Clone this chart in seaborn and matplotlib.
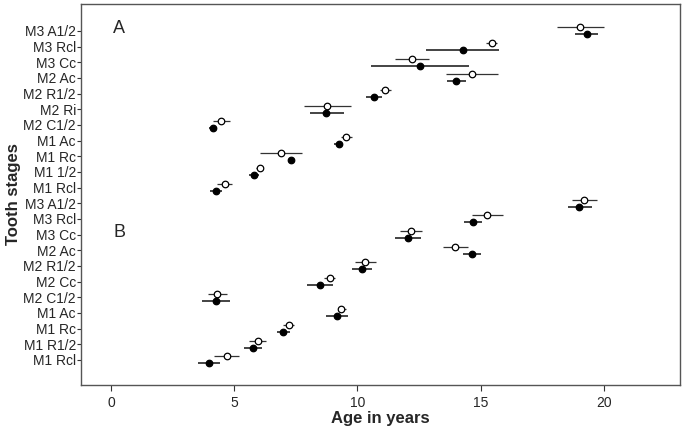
import matplotlib
matplotlib.use("Agg")
import matplotlib.pyplot as plt
import seaborn as sns
import pandas as pd
import numpy as np

sns.set_style("white")
plt.rcParams['font.family'] = ['Liberation Sans', 'DejaVu Sans']

# Tooth stage labels (top to bottom)
stages = ["M3 A1/2", "M3 Rcl", "M3 Cc", "M2 Ac", "M2 R1/2", "M2 Ri", "M2 C1/2",
          "M1 Ac", "M1 Rc", "M1 1/2", "M1 Rcl",
          "M3 A1/2", "M3 Rcl", "M3 Cc", "M2 Ac", "M2 R1/2", "M2 Cc", "M2 C1/2",
          "M1 Ac", "M1 Rc", "M1 R1/2", "M1 Rcl"]

# Open circles: mean, lower, upper
open_mean = [19.04, 15.45, 12.22, 14.66, 11.14, 8.78, 4.47, 9.55, 6.91, 6.03, 4.61,
             19.20, 15.28, 12.18, 13.97, 10.33, 8.89, 4.31, 9.34, 7.21, 5.95, 4.70]
open_lo = [18.09, 15.22, 11.54, 13.60, 10.93, 7.82, 4.16, 9.34, 6.06, 5.88, 4.30,
           18.70, 14.66, 11.72, 13.47, 9.90, 8.63, 3.92, 9.21, 7.00, 5.62, 4.20]
open_hi = [20.01, 15.68, 12.90, 15.69, 11.38, 9.76, 4.84, 9.80, 7.76, 6.17, 4.93,
           19.72, 15.92, 12.64, 14.47, 10.74, 9.10, 4.73, 9.55, 7.41, 6.29, 5.20]

# Filled circles: mean, lower, upper
fill_mean = [19.30, 14.27, 12.55, 14.01, 10.68, 8.74, 4.16, 9.27, 7.30, 5.81, 4.27,
             19.01, 14.69, 12.07, 14.66, 10.18, 8.48, 4.27, 9.17, 6.98, 5.76, 3.98]
fill_lo = [18.83, 12.78, 10.56, 13.63, 10.37, 8.09, 4.00, 9.04, 7.30, 5.62, 4.02,
           18.55, 14.32, 11.54, 14.28, 9.78, 7.96, 3.71, 8.73, 6.74, 5.42, 3.55]
fill_hi = [19.76, 15.76, 14.55, 14.39, 11.02, 9.47, 4.32, 9.36, 7.30, 5.99, 4.50,
           19.54, 15.07, 12.59, 15.03, 10.58, 9.01, 4.84, 9.61, 7.25, 6.15, 4.43]

xticks = [0, 5, 10, 15, 20]
panel_labels = ["A", "B"]

idx = np.arange(len(stages))
off = 0.22
df_open = pd.DataFrame({"x": open_mean, "y": idx - off})
df_fill = pd.DataFrame({"x": fill_mean, "y": idx + off})

fig = plt.figure(figsize=(6.85, 4.32), dpi=100)
ax = fig.add_axes([0.118, 0.109, 0.875, 0.882])

ax.hlines(idx - off, open_lo, open_hi, color="#333333", lw=0.9, zorder=1)
ax.hlines(idx + off, fill_lo, fill_hi, color="#111111", lw=1.1, zorder=1)

sns.scatterplot(data=df_open, x="x", y="y", ax=ax, marker="o", s=22,
                facecolor="white", edgecolor="black", linewidth=0.9, zorder=3)
sns.scatterplot(data=df_fill, x="x", y="y", ax=ax, marker="o", s=22,
                color="black", edgecolor="black", linewidth=0.9, zorder=3)

ax.set_xlim(-1.22, 23.1)
ax.set_ylim(22.6, -1.72)
ax.set_yticks(idx)
ax.set_yticklabels(stages, fontsize=10)
ax.set_xticks(xticks)
ax.set_xticklabels([str(t) for t in xticks], fontsize=10)
ax.set_xlabel("Age in years", fontsize=12, fontweight="bold", labelpad=1)
ax.set_ylabel("Tooth stages", fontsize=12, fontweight="bold", labelpad=2)

ax.tick_params(axis="y", which="both", left=True, length=3, width=0.8, color="#333333", pad=0.5)
ax.tick_params(axis="x", which="both", bottom=True, length=4, width=0.8, color="#333333", pad=4)
for s in ax.spines.values():
    s.set_color("#555555")
    s.set_linewidth(1.0)

ax.text(0.1, -0.15, panel_labels[0], fontsize=13, ha="left", va="center")
ax.text(0.1, 12.9, panel_labels[1], fontsize=13, ha="left", va="center")

fig.savefig("out.png", dpi=100)
